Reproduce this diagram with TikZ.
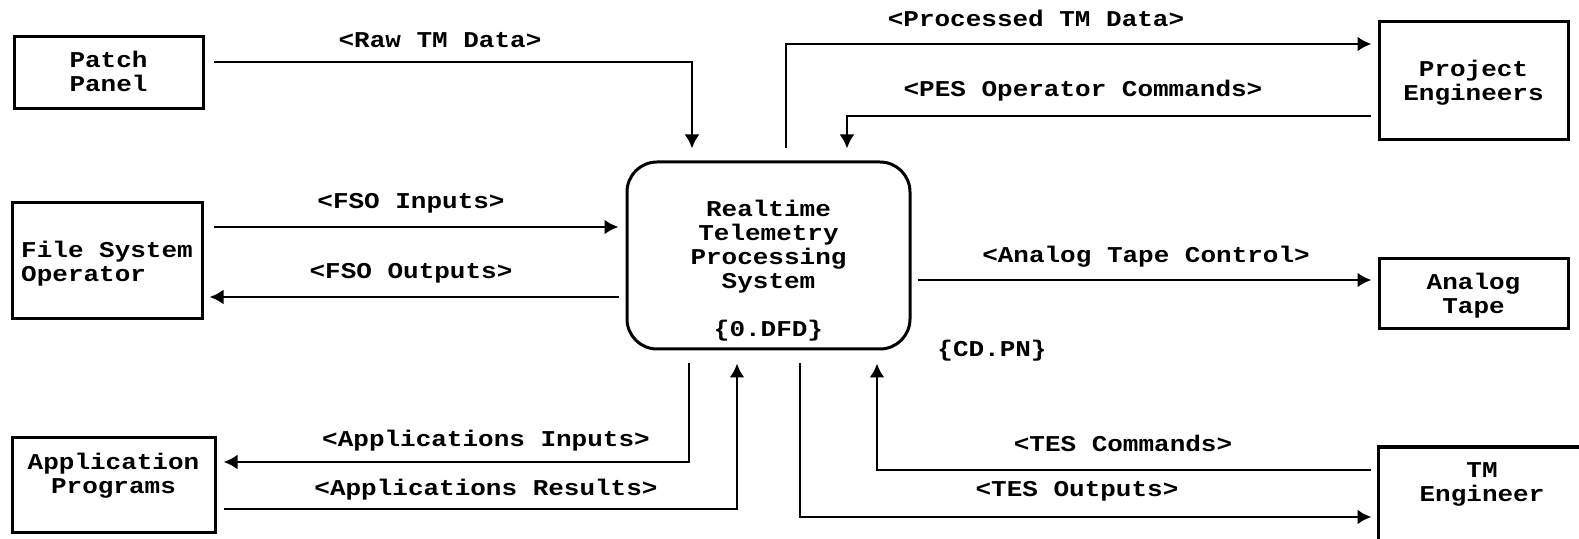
\documentclass[tikz,border=0pt]{standalone}
\usepackage{fontspec}
\usetikzlibrary{arrows.meta,calc}
\newfontfamily\plotfont[FakeStretch=1.15]{Liberation Mono}
\newcommand{\lns}[2][c]{\begin{tabular}[t]{@{}#1@{}}#2\end{tabular}}

\begin{document}
\begin{tikzpicture}[x=0.5pt,y=-0.5pt,
  font=\plotfont\bfseries\fontsize{11.3}{12}\selectfont,
  box/.style={draw,line width=1.5pt,inner sep=0pt},
  flow/.style={draw,line width=1.4pt,-{Latex[length=7pt,width=7.5pt]}}]
\clip (0,0) rectangle (1579,539);

\node[box,minimum width=94.5pt,text height=15.5pt,text depth=20.5pt] (patch) at (108.5,73) {\lns{Patch\\Panel}};
\node[box,minimum width=95pt,text height=27.5pt,text depth=30.5pt] (fso) at (107,261) {\lns[l]{File System\\Operator}};
\node[box,minimum width=101.5pt,text height=15.5pt,text depth=31.5pt] (app) at (113.5,485) {\lns{Application\\Programs}};
\node[box,rounded corners=15pt,minimum width=141.5pt,text height=27.5pt,text depth=66pt] (proc) at (768.5,255.5) {\lns{Realtime\\Telemetry\\Processing\\System\\ \\\{0.DFD\}}};
\node[box,minimum width=94.5pt,text height=27.5pt,text depth=31.5pt] (proj) at (1473.5,81) {\lns{Project\\Engineers}};
\node[box,minimum width=94.5pt,text height=15.5pt,text depth=19.5pt] (tape) at (1473.5,294) {\lns{Analog\\Tape}};
\node[box,minimum width=104pt,text height=15pt,text depth=35pt] (tmeng) at (1482,497) {\lns{TM\\Engineer}};

\draw[flow] ($(patch.east)+(9,-11)$) -| ($(proc.north)+(-76.5,-12)$);
\draw[flow] ($(proc.north)+(17.5,-12)$) |- ($(proj.west)+(-6,-37)$);
\draw[flow] ($(proj.west)+(-7,35)$) -| ($(proc.north)+(78.5,-12)$);
\draw[flow] ($(fso.east)+(10,-34)$) -- ($(proc.west)+(-7,-28.5)$);
\draw[flow] ($(proc.west)+(-7,41.5)$) -- ($(fso.east)+(6,36)$);
\draw[flow] ($(proc.east)+(6,24.5)$) -- ($(tape.west)+(-6,-14)$);
\draw[flow] ($(proc.south)+(-79.5,13)$) |- ($(app.east)+(7,-23)$);
\draw[flow] ($(app.east)+(7,24)$) -| ($(proc.south)+(-31.5,13)$);
\draw[flow] ($(tmeng.west)+(-6,-27)$) -| ($(proc.south)+(108.5,13)$);
\draw[flow] ($(proc.south)+(31.5,13)$) |- ($(tmeng.west)+(-5,20)$);

\node (rawlbl) at (440,40) {<Raw TM Data>};
\node (prclbl) at (1036,18) {<Processed TM Data>};
\node (peslbl) at (1083,91) {<PES Operator Commands>};
\node (fsoin) at (411,203) {<FSO Inputs>};
\node (fsoout) at (411,273) {<FSO Outputs>};
\node (tapelbl) at (1146,257) {<Analog Tape Control>};
\node (appin) at (486,441) {<Applications Inputs>};
\node (appres) at (486,490) {<Applications Results>};
\node (tescmd) at (1123,443) {<TES Commands>};
\node (tesout) at (1077,491) {<TES Outputs>};
\node (cdpn) at (992,351) {\{CD.PN\}};
\end{tikzpicture}
\end{document}
